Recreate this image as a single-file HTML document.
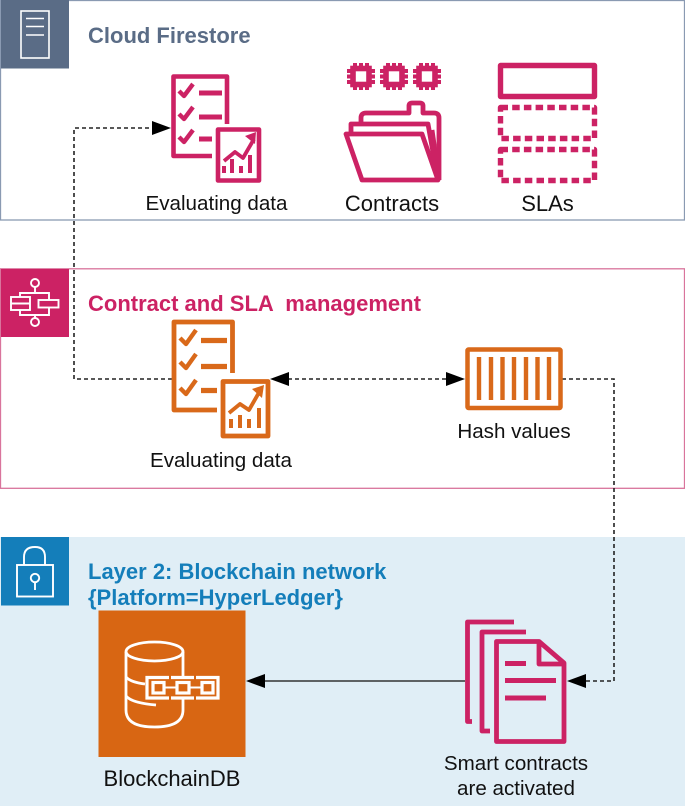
<!DOCTYPE html>
<html><head><meta charset="utf-8"><style>
html,body{margin:0;padding:0;background:#fff}
svg{display:block}
text{font-family:"Liberation Sans",sans-serif}
.l{font-size:20.6px;fill:#111;text-anchor:middle}
.b{font-size:22px;fill:#111;text-anchor:middle}
.t{font-size:22px;font-weight:bold}
</style></head><body>
<svg width="685" height="806" viewBox="0 0 685 806" xmlns="http://www.w3.org/2000/svg">
<!-- Box 3 background -->
<rect x="0" y="537" width="685" height="269" fill="#e0eef6"/>
<!-- Box 1 -->
<rect x="0.5" y="0.5" width="684" height="219.5" fill="#fff" stroke="#8a9ab2" stroke-width="1.3"/>
<rect x="1" y="0" width="68" height="68.5" fill="#5a6c86"/>
<g fill="none" stroke="#fff" stroke-width="1.6">
<rect x="21" y="11" width="28" height="47"/>
<path d="M26 18.500H44M26 26.500H44M26 35H44"/>
</g>
<text x="88" y="43" class="t" fill="#5a6c86">Cloud Firestore</text>
<!-- Pink checklist -->
<g fill="none" stroke="#cc2264" stroke-width="4.600" stroke-linejoin="round">
<path d="M227 124V76.500H173.500V156H212"/>
<rect x="218" y="129.500" width="41" height="51"/>
<path d="M179 91l5 5 9-12M179 114l5 5 9-12M179 137l5 5 9-12" stroke-width="4.400"/>
<path d="M199 93H222M199 117H222M199 139H212" stroke-width="5"/>
<path d="M224 161l11-9 8 6 11-19" stroke-width="3.800"/>
<path d="M224 173V166M232 173V159M241 173V166M250 173V155" stroke-width="4"/>
</g>
<path d="M245 136l11-4-1 12z" fill="#cc2264"/>
<text x="216.500" y="210" class="l">Evaluating data</text>
<!-- Chips -->
<g fill="none" stroke="#cc2264" stroke-width="5.600">
<rect x="353" y="68.500" width="16" height="16"/>
<rect x="386" y="68.500" width="16" height="16"/>
<rect x="419" y="68.500" width="16" height="16"/>
<path d="M355 63v5M361 63v5M367 63v5M355 85v5M361 85v5M367 85v5M347 71h5M347 76.500h5M347 82h5M370 71h5M370 76.500h5M370 82h5M388 63v5M394 63v5M400 63v5M388 85v5M394 85v5M400 85v5M380 71h5M380 76.500h5M380 82h5M403 71h5M403 76.500h5M403 82h5M421 63v5M427 63v5M433 63v5M421 85v5M427 85v5M433 85v5M413 71h5M413 76.500h5M413 82h5M436 71h5M436 76.500h5M436 82h5" stroke-width="4"/>
</g>
<!-- Folder -->
<g fill="none" stroke="#cc2264" stroke-width="4.800" stroke-linejoin="round">
<path d="M346 134H422L438 180H362Z"/>
<path d="M351 134V124H428L438 180"/>
<path d="M361 123V118Q361 113 366 113H409V106Q409 103 412 103H420Q423 103 423 106V113H434Q439 113 439 118V180"/>
<path d="M432 130L437 165"/>
</g>
<text x="392" y="211" class="b">Contracts</text>
<!-- SLAs -->
<g fill="none" stroke="#cc2264" stroke-linejoin="round">
<rect x="500.500" y="65.500" width="94" height="31" stroke-width="5.400"/>
<rect x="500.500" y="107.500" width="94" height="31" stroke-width="5.400" stroke-dasharray="7.500 4.200"/>
<rect x="500.500" y="149.500" width="94" height="31" stroke-width="5.400" stroke-dasharray="7.500 4.200"/>
</g>
<text x="547.500" y="211" class="b">SLAs</text>

<!-- Box 2 -->
<rect x="0.500" y="268.800" width="684" height="219.500" fill="#fff" stroke="#d9749c" stroke-width="1.300"/>
<rect x="1" y="269" width="68" height="68" fill="#cc2264"/>
<g fill="none" stroke="#fff" stroke-width="1.900">
<circle cx="35" cy="283" r="4"/><circle cx="35" cy="322" r="4"/>
<path d="M35 287V293H20V297M20 310V315H35V318M49 300V293H35M49 307.500V315H35"/>
<rect x="11" y="297" width="19" height="13"/>
<path d="M11 303.500H30"/>
<rect x="38.500" y="300" width="20" height="7.500"/>
</g>
<text x="88" y="311" class="t" fill="#cc2264" xml:space="preserve">Contract and SLA  management</text>

<!-- Connectors dashed -->
<g fill="none" stroke="#222" stroke-width="1.600" stroke-dasharray="4 3">
<path d="M172 379H74V128H153"/>
<path d="M288 379H447"/>
<path d="M562 379H614V681H585"/>
</g>
<path d="M465 681H264" stroke="#333" stroke-width="1.400" fill="none"/>

<!-- Orange checklist -->
<g fill="none" stroke="#d9691a" stroke-width="4.800" stroke-linejoin="round">
<path d="M232.500 373V322H174V410H217"/>
<rect x="223" y="381.500" width="45" height="54.500"/>
<path d="M180 338l6 6 10-14M180 362l6 6 10-14M180 388l6 6 10-14" stroke-width="4.400"/>
<path d="M201 340.500H227M201 366.500H227M201 390.500H217" stroke-width="5.200"/>
<path d="M229 413l11-9 9 6 12-21" stroke-width="3.800"/>
<path d="M231 428V419M240 428V415M249 428V419M259 428V408" stroke-width="4"/>
</g>
<path d="M252 389l12-4-2 13z" fill="#d9691a"/>
<text x="221" y="467" class="l">Evaluating data</text>

<!-- Hash -->
<rect x="467.500" y="349.500" width="93" height="58.500" rx="1" fill="#fff" stroke="#d9691a" stroke-width="4.500"/>
<path d="M479 357V400M491 357V400M502.500 357V400M514 357V400M526 357V400M537.500 357V400M549 357V400" stroke="#d9691a" stroke-width="4.400"/>
<text x="514" y="438" class="l">Hash values</text>

<!-- Arrowheads -->
<g fill="#000">
<path d="M171 128L152 121V135Z"/>
<path d="M270 379L289 372V386Z"/>
<path d="M465 379L446 372V386Z"/>
<path d="M567 681L586 674V688Z"/>
</g>

<!-- Box 3 header -->
<rect x="1" y="537" width="68" height="68.500" fill="#147eba"/>
<g fill="none" stroke="#fff" stroke-width="1.900">
<rect x="17" y="565" width="36" height="31.500"/>
<path d="M24 565V557Q24 547 35 547Q45 547 45 557V565"/>
<circle cx="35" cy="578" r="4.200"/>
<path d="M35 582V590"/>
</g>
<text x="88" y="579" class="t" fill="#147eba">Layer 2: Blockchain network</text>
<text x="88" y="605" class="t" fill="#147eba">{Platform=HyperLedger}</text>
<rect x="98.500" y="610.500" width="147" height="146.500" fill="#d86613"/>
<g fill="none" stroke="#fff" stroke-width="2.800">
<ellipse cx="154.500" cy="651.500" rx="28.500" ry="9.500"/>
<path d="M126 652V710Q126 727 154.500 727Q183 727 183 710V699"/>
<path d="M183 652V676"/>
<path d="M126 677Q130 682 145 684M126 696Q132 703 156 705"/>
<path d="M169 677.500H147V698H169M171 677.500H194M171 698H194M196 677.500H218V698H196" stroke-width="3.200"/>
<rect x="153" y="682.500" width="11" height="10.500" stroke-width="3.200"/>
<rect x="177" y="682.500" width="12" height="10.500" stroke-width="3.200"/>
<rect x="202" y="682.500" width="11" height="10.500" stroke-width="3.200"/>
<path d="M164 687.500H177M189 687.500H202" stroke-width="2"/>
</g>
<text x="172" y="786" class="b">BlockchainDB</text>
<path d="M246 681L265 674V688Z" fill="#000"/>
<!-- Smart contracts -->
<g fill="none" stroke="#cc2264" stroke-width="4.800" stroke-linejoin="round">
<path d="M514 622H467.500V721.500H472"/>
<path d="M526 632H482V731H490"/>
<path d="M539 641.500H496.500V741.500H564V663L539 641.500V664H564" fill="#e0eef6"/>
<path d="M505 663.500H526M505 680.500H556M505 698H546" stroke-width="5"/>
</g>
<text x="516" y="770" class="l">Smart contracts</text>
<text x="516" y="795" class="l">are activated</text>
</svg>
</body></html>
